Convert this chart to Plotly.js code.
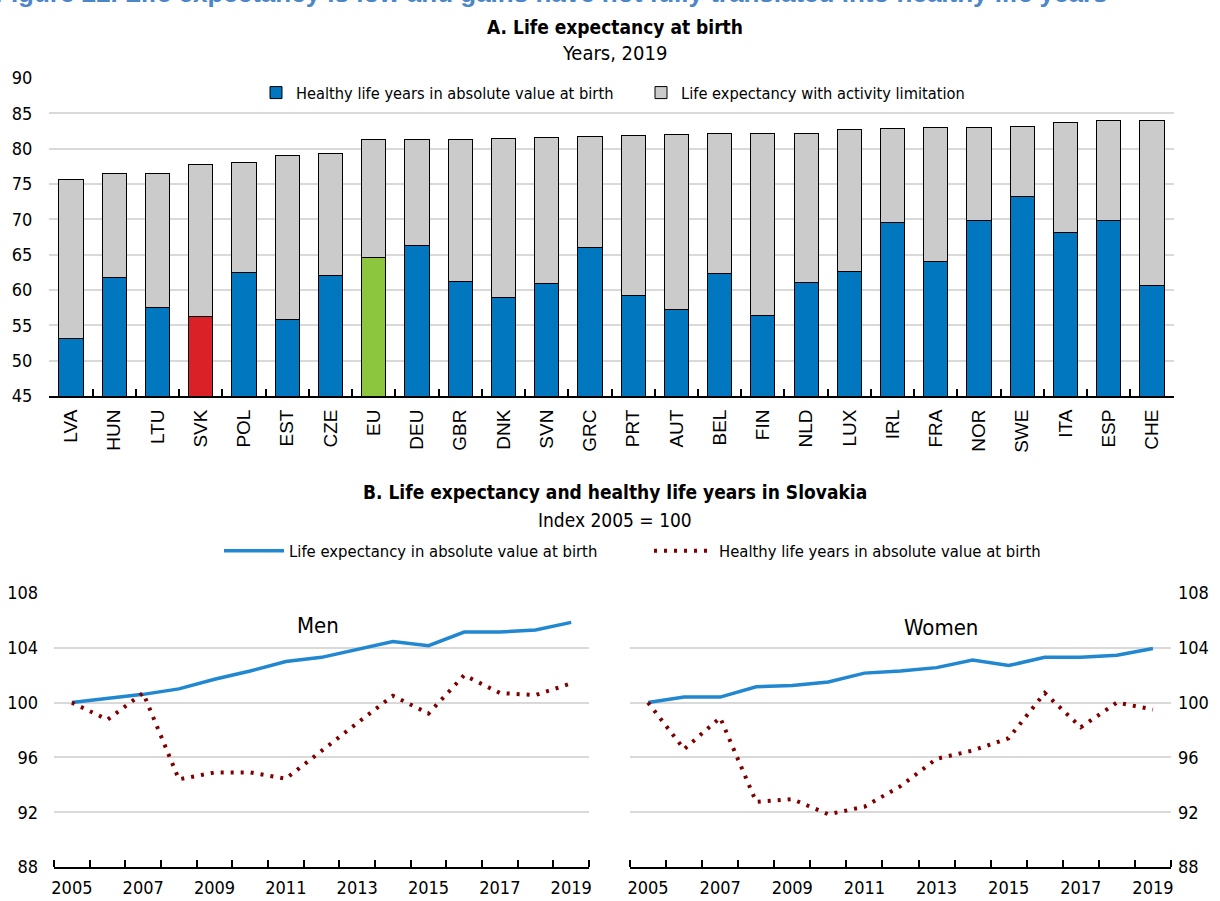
<!DOCTYPE html>
<html>
<head>
<meta charset="utf-8">
<script src="https://cdn.plot.ly/plotly-3.0.1.min.js"></script>
<style>html,body{margin:0;padding:0;background:#fff;}#chart{width:1220px;height:901px;}</style>
</head>
<body>
<div id="chart"></div>
<script>
// ---- Panel A data (years, 2019) ----
const countries = ['LVA','HUN','LTU','SVK','POL','EST','CZE','EU','DEU','GBR','DNK','SVN','GRC','PRT','AUT','BEL','FIN','NLD','LUX','IRL','FRA','NOR','SWE','ITA','ESP','CHE'];
const lifeExpectancy = [75.7,76.5,76.5,77.8,78.0,79.0,79.3,81.3,81.3,81.3,81.5,81.6,81.7,81.9,82.0,82.1,82.1,82.2,82.7,82.8,83.0,83.0,83.2,83.7,84.0,84.0];
const healthyYears = [53.1,61.7,57.5,56.2,62.5,55.8,62.0,64.6,66.3,61.2,58.9,60.9,66.0,59.2,57.3,62.3,56.4,61.0,62.6,69.6,64.0,69.8,73.3,68.2,69.9,60.6];

// ---- Panel B data (index 2005 = 100) ----
const years = [2005,2006,2007,2008,2009,2010,2011,2012,2013,2014,2015,2016,2017,2018,2019];
const menLifeExp = [100,100.3,100.6,101.0,101.7,102.3,103.0,103.3,103.85,104.45,104.15,105.15,105.15,105.3,105.85];
const menHealthy = [100,98.75,100.7,94.4,94.9,94.9,94.45,96.5,98.5,100.5,99.2,102.0,100.7,100.55,101.4];
const womenLifeExp = [100,100.4,100.4,101.15,101.25,101.5,102.15,102.3,102.55,103.1,102.7,103.3,103.3,103.45,103.95];
const womenHealthy = [100,96.6,98.9,92.75,92.95,91.85,92.4,93.9,95.9,96.5,97.4,100.7,98.2,100.0,99.5];

const BLUE = '#0077BE', GREY = '#CBCBCB', RED = '#DA2128', GREEN = '#8CC63F';
const LINEBLUE = '#2187D0', DOTRED = '#7F0000';
const NARROW = "'Liberation Sans Narrow', 'Arial Narrow', 'DejaVu Sans Condensed', sans-serif";
const SANS = "'Liberation Sans', Arial, sans-serif";

const limitation = lifeExpectancy.map((v, i) => +(v - healthyYears[i]).toFixed(2));
const barColors = countries.map(c => c === 'SVK' ? RED : (c === 'EU' ? GREEN : BLUE));

const DOTS = '3px,7px';
const traces = [
  {type:'bar', x:countries, y:healthyYears, name:'Healthy life years in absolute value at birth',
   marker:{color:barColors, line:{color:'#000', width:1}}, xaxis:'x', yaxis:'y', legend:'legend'},
  {type:'bar', x:countries, y:limitation, name:'Life expectancy with activity limitation',
   marker:{color:GREY, line:{color:'#000', width:1}}, xaxis:'x', yaxis:'y', legend:'legend'},
  {type:'scatter', mode:'lines', x:years, y:menLifeExp, name:'Life expectancy in absolute value at birth',
   line:{color:LINEBLUE, width:3.5}, xaxis:'x3', yaxis:'y3', legend:'legend2'},
  {type:'scatter', mode:'lines', x:years, y:menHealthy, name:'Healthy life years in absolute value at birth',
   line:{color:DOTRED, width:4, dash:DOTS}, xaxis:'x3', yaxis:'y3', legend:'legend2'},
  {type:'scatter', mode:'lines', x:years, y:womenLifeExp, showlegend:false,
   line:{color:LINEBLUE, width:3.5}, xaxis:'x4', yaxis:'y4'},
  {type:'scatter', mode:'lines', x:years, y:womenHealthy, showlegend:false,
   line:{color:DOTRED, width:4, dash:DOTS}, xaxis:'x4', yaxis:'y4'}
];

const tickFont = {family:NARROW, size:18, color:'#000'};
const boundaries = years.map(y => y - 0.5).concat([years[years.length-1] + 0.5]);
const oddYears = years.filter(y => y % 2 === 1);

function bottomX(domain, anchor){
  return {domain:domain, anchor:anchor, range:[years[0]-0.5, years[years.length-1]+0.5],
    tickmode:'array', tickvals:oddYears, ticks:'', showgrid:false, zeroline:false,
    showline:true, linecolor:'#000', linewidth:2, tickfont:tickFont, ticklabelstandoff:3,
    minor:{tickmode:'array', tickvals:boundaries, ticks:'inside', ticklen:7, tickcolor:'#000', tickwidth:2, showgrid:false}};
}
function bottomY(domain, anchor, side, standoff){
  return {domain:domain, anchor:anchor, side:side, range:[88,108], dtick:4, tick0:88,
    showgrid:true, gridcolor:'#D9D9D9', gridwidth:2, zeroline:false, showline:false,
    ticks:'', tickfont:tickFont, ticklabelstandoff:standoff};
}

const layout = {
  width:1220, height:901, margin:{l:0, r:0, t:0, b:0},
  paper_bgcolor:'#fff', plot_bgcolor:'rgba(0,0,0,0)',
  barmode:'stack', bargap:0.44, showlegend:true,
  font:{family:NARROW, color:'#000'},
  xaxis:{domain:[0.0405,0.962], anchor:'y', type:'category', tickangle:-90,
    tickson:'boundaries', ticks:'inside', ticklen:7, tickwidth:2, tickcolor:'#000',
    showline:true, linecolor:'#000', linewidth:2, showgrid:false, ticklabelstandoff:4,
    tickfont:{family:SANS, size:19, color:'#000'}},
  yaxis:{domain:[0.5605,0.9134], anchor:'x', range:[45,90], dtick:5, tick0:45,
    showgrid:true, gridcolor:'#D9D9D9', gridwidth:2, zeroline:false, ticks:'', tickfont:tickFont,
    ticklabelstandoff:16},
  yaxis2:{overlaying:'y', anchor:'x', side:'right', range:[45,90], dtick:5, tick0:45,
    showgrid:false, zeroline:false, ticks:'', tickfont:tickFont, ticklabelstandoff:3},
  xaxis3:bottomX([0.0443,0.4828],'y3'),
  yaxis3:bottomY([0.0377,0.3419],'x3','left',15),
  xaxis4:bottomX([0.5164,0.9598],'y4'),
  yaxis4:bottomY([0.0377,0.3419],'x4','right',6),
  legend:{orientation:'h', x:256/1220, xanchor:'left', y:0.8968, yanchor:'middle', entrywidth:340,
    font:{family:NARROW, size:16.3, color:'#000'}, bgcolor:'rgba(0,0,0,0)', traceorder:'normal'},
  legend2:{orientation:'h', x:219/1220, xanchor:'left', y:0.3885, yanchor:'middle', entrywidth:355,
    font:{family:NARROW, size:16.5, color:'#000'}, bgcolor:'rgba(0,0,0,0)', itemwidth:60},
  annotations:[
    {text:'<b>Figure 22. Life expectancy is low and gains have not fully translated into healthy life years</b>',
     xref:'paper', yref:'paper', x:-0.006, y:1-10/901, xanchor:'left', yanchor:'bottom', showarrow:false,
     font:{family:SANS, size:26, color:'#4A86C8'}},
    {text:'<b>A. Life expectancy at birth</b>', xref:'paper', yref:'paper', x:0.504, y:0.970,
     xanchor:'center', yanchor:'middle', showarrow:false, font:{family:NARROW, size:19}},
    {text:'Years, 2019', xref:'paper', yref:'paper', x:0.504, y:0.941,
     xanchor:'center', yanchor:'middle', showarrow:false, font:{family:NARROW, size:20}},
    {text:'<b>B. Life expectancy and healthy life years in Slovakia</b>', xref:'paper', yref:'paper', x:0.504, y:0.454,
     xanchor:'center', yanchor:'middle', showarrow:false, font:{family:NARROW, size:19}},
    {text:'Index 2005 = 100', xref:'paper', yref:'paper', x:0.504, y:0.4229,
     xanchor:'center', yanchor:'middle', showarrow:false, font:{family:NARROW, size:19}},
    {text:'Men', xref:'paper', yref:'paper', x:0.2607, y:0.3063,
     xanchor:'center', yanchor:'middle', showarrow:false, font:{family:NARROW, size:22}},
    {text:'Women', xref:'paper', yref:'paper', x:0.7713, y:0.3041,
     xanchor:'center', yanchor:'middle', showarrow:false, font:{family:NARROW, size:22}}
  ]
};

Plotly.newPlot('chart', traces, layout, {displayModeBar:false, responsive:false});
</script>
</body>
</html>
